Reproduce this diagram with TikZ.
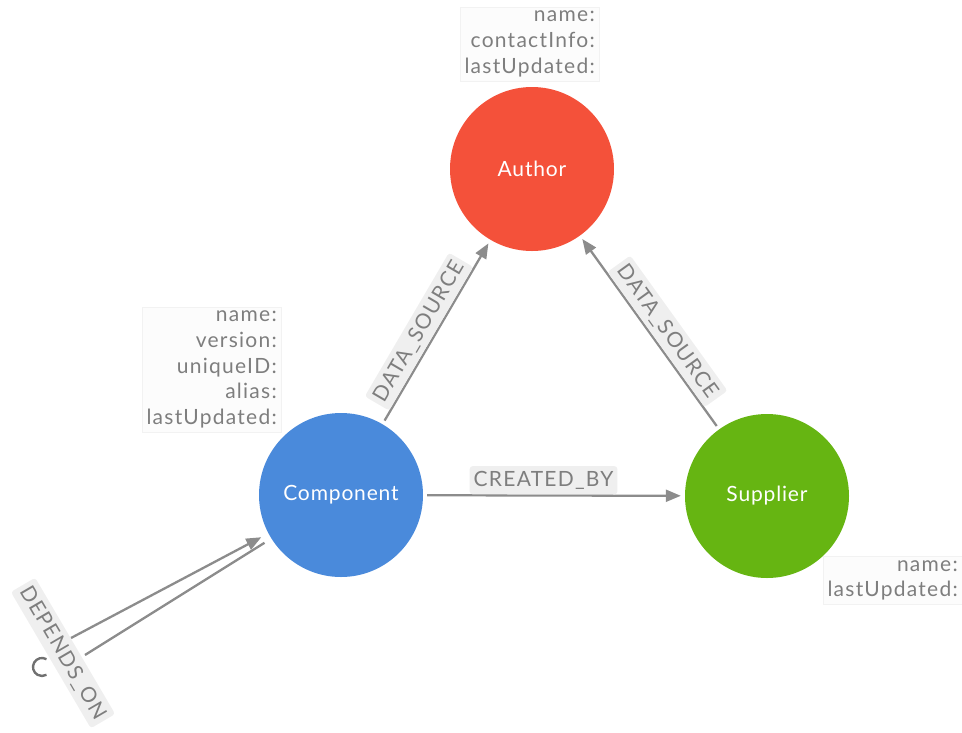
\documentclass[tikz,border=0pt]{standalone}
\usepackage{fontspec}
\setmainfont{Lato}
\newfontfamily\lblfont[LetterSpace=6]{Lato}
\newfontfamily\entfont[LetterSpace=4]{Lato}
\usetikzlibrary{arrows.meta}
\definecolor{authred}{HTML}{F4513A}
\definecolor{compblue}{HTML}{4A8ADB}
\definecolor{supgreen}{HTML}{66B512}
\definecolor{edgegray}{HTML}{8C8C8C}
\definecolor{loopgray}{HTML}{707070}
\definecolor{labelgray}{HTML}{7E7E7E}
\definecolor{labelbg}{HTML}{EFEFEF}
\definecolor{propbg}{HTML}{FCFCFC}
\definecolor{propline}{HTML}{F2F2F2}
\begin{document}
\begin{tikzpicture}[x=1pt,y=-1pt,
  ent/.style={circle, minimum size=164pt, inner sep=0pt, text=white, font=\entfont\fontsize{21}{24}\selectfont},
  reledge/.style={draw=edgegray, line width=2.3pt},
  rel/.style={reledge, shorten <=4pt, shorten >=4pt, -{Triangle[length=15pt,width=12pt]}},
  rellabel/.style={fill=labelbg, text=labelgray, rounded corners=3pt, inner xsep=4pt, inner ysep=5pt, font=\lblfont\fontsize{21}{24}\selectfont},
  props/.style={align=right, fill=propbg, draw=propline, text=labelgray, font=\lblfont\fontsize{21}{25.7}\selectfont, inner sep=4pt}
]
\useasboundingbox (0,0) rectangle (962,732);

\node[ent, fill=authred] (auth) at (532,169) {Author};
\node[ent, fill=compblue] (comp) at (341,495) {Component};
\node[ent, fill=supgreen] (sup) at (767,496) {Supplier};

\node[props, anchor=east] (authprops) at (599,44) {name:\\contactInfo:\\lastUpdated:};
\node[props, anchor=east] (compprops) at (281,369.5) {name:\\version:\\uniqueID:\\alias:\\lastUpdated:};
\node[props, anchor=east] (supprops) at (962,580.5) {name:\\lastUpdated:};

\draw[rel] (comp) -- node[rellabel, sloped, above, pos=0.46] (l1) {DATA\_SOURCE} (auth);
\draw[rel] (sup) -- node[rellabel, sloped, above, pos=0.46] (l2) {DATA\_SOURCE} (auth);
\draw[rel] (comp) -- node[rellabel, above, pos=0.46] (l3) {CREATED\_BY} (sup);

\coordinate (loopin) at (71,638);
\coordinate (loopout) at (85,655);
\draw[rel, shorten <=0pt, shorten >=8pt] (loopin) -- (comp);
\draw[reledge, shorten <=8pt] (comp) -- (loopout);
\node[rellabel, rotate=-59.6] (deplabel) at (63,653) {DEPENDS\_ON};
\draw[loopgray, line width=2.4pt] (46.5,659.2) arc[start angle=-60, end angle=-300, radius=9];
\end{tikzpicture}
\end{document}
